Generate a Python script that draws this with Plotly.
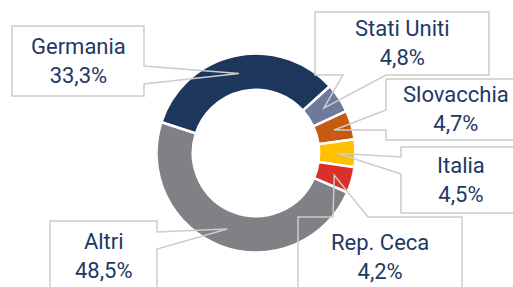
import math
import plotly.graph_objects as go

# ---- data ----
countries = ["Germania", "Stati Uniti", "Slovacchia", "Italia", "Rep. Ceca", "Altri"]
shares = [33.3, 4.8, 4.7, 4.5, 4.2, 48.5]
colors = ["#1c365c", "#6c7a9c", "#c55a11", "#ffc000", "#d9302a", "#808085"]

# ---- layout constants (pixels) ----
W, H = 513, 287
CX, CY, R = 256.0, 153.0, 99.5
HOLE = 0.635
ROTATION = -72
TEXT_COLOR = "#1f3864"
LINE_COLOR = "#cccccc"

# callout boxes: (x0, y0, x1, y1, side, base_a, base_b)
boxes = {
    "Germania":    (12, 26, 144, 96, "right", 66, 84),
    "Stati Uniti": (315, 12, 489, 75, "bottom", 343, 386),
    "Slovacchia":  (386, 79, 525, 140, "left", 110, 130),
    "Italia":      (401, 147, 521, 213, "left", 157, 174),
    "Rep. Ceca":   (298, 217, 462, 297, "top", 333, 368),
    "Altri":       (50, 221, 157, 291, "right", 232, 249),
}


def px(x):
    return x / W


def py(y):
    return 1 - y / H


fig = go.Figure(go.Pie(
    labels=countries,
    values=shares,
    hole=HOLE,
    sort=False,
    direction="clockwise",
    rotation=ROTATION,
    marker=dict(colors=colors, line=dict(color="white", width=2.5)),
    textinfo="none",
    hoverinfo="label+percent",
    showlegend=False,
    domain=dict(x=[px(CX - R), px(CX + R)], y=[py(CY + R), py(CY - R)]),
))

total = sum(shares)
cum = 0.0
shapes = []
annotations = []
r_mid = R * (1 + HOLE) / 2
for name, v in zip(countries, shares):
    mid = ROTATION + (cum + v / 2) / total * 360
    cum += v
    th = math.radians(mid)
    tx = CX + r_mid * math.sin(th)
    ty = CY - r_mid * math.cos(th)
    x0, y0, x1, y1, side, a, b = boxes[name]
    if side == "right":
        pts = [(x0, y0), (x1, y0), (x1, a), (tx, ty), (x1, b), (x1, y1), (x0, y1)]
    elif side == "left":
        pts = [(x0, y0), (x1, y0), (x1, y1), (x0, y1), (x0, b), (tx, ty), (x0, a)]
    elif side == "bottom":
        pts = [(x0, y0), (x1, y0), (x1, y1), (b, y1), (tx, ty), (a, y1), (x0, y1)]
    else:  # top
        pts = [(x0, y0), (a, y0), (tx, ty), (b, y0), (x1, y0), (x1, y1), (x0, y1)]
    path = "M " + " L ".join(f"{px(x):.5f},{py(y):.5f}" for x, y in pts) + " Z"
    shapes.append(dict(type="path", xref="paper", yref="paper", path=path,
                       line=dict(color=LINE_COLOR, width=1.5), layer="above"))
    label = f"{v:.1f}".replace(".", ",") + "%"
    annotations.append(dict(
        x=px((x0 + x1) / 2), y=py((y0 + y1) / 2), xref="paper", yref="paper",
        text=f"{name}<br>{label}", showarrow=False,
        xanchor="center", yanchor="middle",
        font=dict(family="Roboto", size=22, color=TEXT_COLOR),
    ))

fig.update_layout(
    width=W, height=H,
    margin=dict(l=0, r=0, t=0, b=0),
    paper_bgcolor="white", plot_bgcolor="white",
    shapes=shapes, annotations=annotations,
)

fig.write_html(
    "out.html",
    config={"displayModeBar": False},
    post_script="document.body.style.margin='0';document.body.style.overflow='hidden';",
)
